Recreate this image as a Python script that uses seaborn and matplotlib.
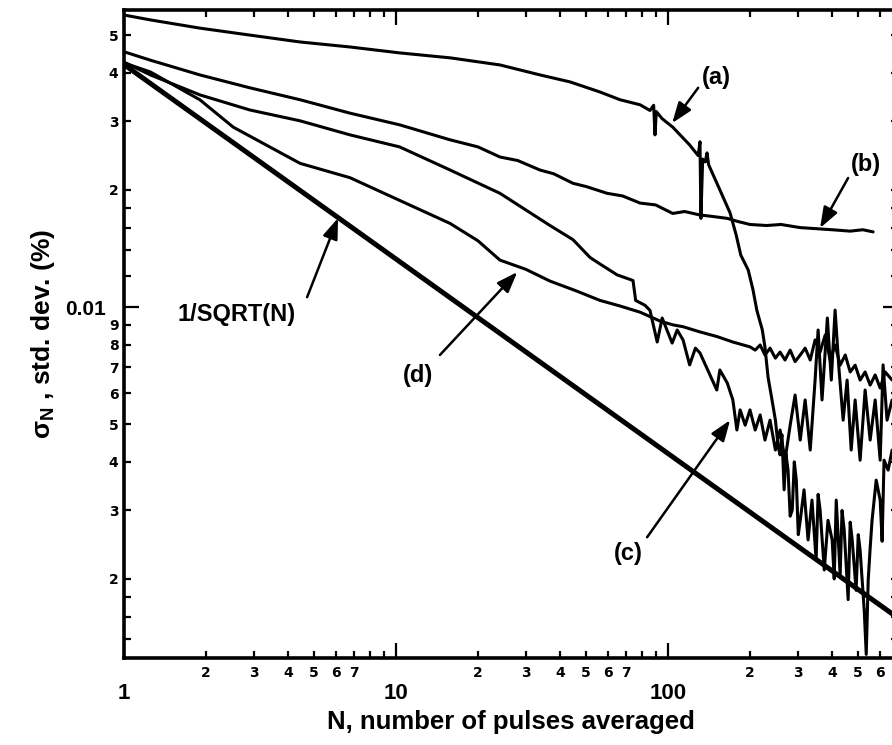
import numpy as np
import seaborn as sns
import matplotlib.pyplot as plt

# N values and std. dev. (log-log)
n_a = [1, 1.25, 1.9, 2.9, 4.44, 6.77, 10.3, 15.8, 24.1, 33.8, 43.6, 56.2, 66.6, 78.9,
       85.8, 88.5, 89.5, 90.5, 95, 104, 120, 129, 131, 132, 134, 137, 139, 141, 145,
       155, 169, 178, 185, 197, 205, 212, 222, 227, 233, 241, 248, 254, 258, 262, 267, 271,
       276, 281, 286, 291, 296, 301, 306, 316, 327, 338, 350, 356, 362, 375, 387, 401, 408,
       415, 429, 436, 444, 459, 467, 475, 491, 500, 508, 526, 535, 544, 553, 562, 582, 602,
       612, 622, 644, 666]
sig_a = [0.0563, 0.0547, 0.0521, 0.0500, 0.0480, 0.0466, 0.0450, 0.0437, 0.0419, 0.0395,
         0.0379, 0.0357, 0.0341, 0.0331, 0.0320, 0.0330, 0.0277, 0.0318, 0.0305, 0.0290,
         0.0261, 0.0245, 0.0266, 0.0169, 0.0240, 0.0236, 0.0249, 0.0232, 0.0222, 0.0200,
         0.01745, 0.0153, 0.0136, 0.01245, 0.0111, 0.0098, 0.00873, 0.00789, 0.00661,
         0.00577, 0.00512, 0.00437, 0.00417, 0.00470, 0.00339, 0.00420, 0.00381, 0.00290,
         0.00301, 0.00400, 0.00359, 0.00260, 0.00283, 0.00339, 0.00252, 0.00319, 0.00224,
         0.00330, 0.00301, 0.00211, 0.00283, 0.00252, 0.00200, 0.00319, 0.00205, 0.00300,
         0.00267, 0.00177, 0.00280, 0.00252, 0.00187, 0.00260, 0.00237, 0.00166, 0.00128,
         0.00199, 0.00240, 0.00283, 0.00359, 0.00319, 0.00250, 0.00404, 0.00381, 0.00429]

n_b = [1, 1.25, 1.9, 2.9, 4.44, 6.77, 10.3, 15.8, 20, 24.1, 28, 33.8, 38, 44.7, 50, 59.7,
       68, 78.9, 90, 104, 115, 131, 145, 165, 180, 200, 230, 260, 306, 350, 400, 467, 520, 567]
sig_b = [0.0453, 0.0431, 0.0395, 0.0366, 0.0341, 0.0315, 0.0294, 0.0269, 0.0258, 0.0243,
         0.0238, 0.0225, 0.0220, 0.0208, 0.0204, 0.0196, 0.0193, 0.0185, 0.0183, 0.0174,
         0.0176, 0.01724, 0.0171, 0.0169, 0.0166, 0.0163, 0.0162, 0.0163, 0.0160, 0.0159,
         0.0158, 0.01567, 0.0158, 0.0156]

n_c = [1, 1.25, 1.9, 2.9, 4.44, 6.77, 10.3, 15.8, 24.1, 36.8, 44.7, 51.7, 56.2, 64.9,
       74.3, 76.0, 82.3, 85.8, 91.2, 95.1, 103.5, 108, 113.5, 120, 126, 131, 151, 155,
       165, 173, 179, 184, 192, 200, 209, 218, 227, 237, 248, 258, 269, 281, 293, 306,
       319, 333, 347, 356, 368, 385, 398, 411, 425, 440, 455, 471, 487, 508, 530, 553,
       577, 602, 617, 638, 666]
sig_c = [0.0426, 0.0395, 0.0351, 0.0321, 0.0301, 0.0277, 0.0258, 0.0225, 0.0196, 0.0162,
         0.0149, 0.0134, 0.0129, 0.0121, 0.0117, 0.0104, 0.0101, 0.0098, 0.00813, 0.00937,
         0.00808, 0.00873, 0.00823, 0.00710, 0.00784, 0.00762, 0.00612, 0.00689, 0.00638,
         0.00577, 0.00483, 0.00544, 0.00497, 0.00544, 0.00483, 0.00528, 0.00455, 0.00512,
         0.00429, 0.00483, 0.00404, 0.00497, 0.00594, 0.00455, 0.00577, 0.00429, 0.00649,
         0.00873, 0.00577, 0.00937, 0.00649, 0.00982, 0.00689, 0.00512, 0.00649, 0.00429,
         0.00577, 0.00404, 0.00612, 0.00455, 0.00577, 0.00404, 0.00710, 0.00512, 0.00577]

n_d = [1, 1.25, 1.9, 2.52, 4.44, 6.77, 10.3, 15.8, 20, 24.1, 30, 36.8, 46, 56.2, 66.6,
       78.9, 93.5, 104, 113.5, 131, 151, 173, 200, 209, 218, 227, 237, 248, 258, 269, 281,
       293, 306, 319, 333, 347, 362, 378, 394, 411, 429, 448, 467, 487, 508, 530, 553,
       577, 602, 628, 666]
sig_d = [0.0424, 0.0402, 0.0341, 0.0290, 0.0234, 0.0215, 0.0188, 0.0164, 0.0148, 0.0132,
         0.0125, 0.01166, 0.0110, 0.0104, 0.01006, 0.0097, 0.0092, 0.0090, 0.0089, 0.00863,
         0.0084, 0.00813, 0.0079, 0.00775, 0.00799, 0.00753, 0.00784, 0.00739, 0.00766,
         0.00731, 0.00775, 0.00724, 0.00753, 0.00784, 0.00731, 0.00823, 0.00766, 0.00847,
         0.00731, 0.00799, 0.00709, 0.00753, 0.00681, 0.00709, 0.00649, 0.00681, 0.00630,
         0.00669, 0.00619, 0.00681, 0.00649]

# 1/sqrt(N) reference line, end points
n_sqrt = [1, 700]
sig_sqrt = [0.042, 0.001588]

x_major = [1, 10, 100]
x_major_labels = ['1', '10', '100']
x_minor = [2, 3, 4, 5, 6, 7, 8, 9, 20, 30, 40, 50, 60, 70, 80, 90, 200, 300, 400, 500, 600]
x_minor_labels = ['2', '3', '4', '5', '6', '7', '', '',
                  '2', '3', '4', '5', '6', '7', '', '',
                  '2', '3', '4', '5', '6']
y_major = [0.01]
y_major_labels = ['0.01']
y_minor = [0.0014, 0.0016, 0.0018, 0.002, 0.003, 0.004, 0.005, 0.006, 0.007, 0.008, 0.009,
           0.012, 0.014, 0.016, 0.018, 0.02, 0.03, 0.04, 0.05]
y_minor_labels = ['', '', '', '2', '3', '4', '5', '6', '7', '8', '9',
                  '', '', '', '', '2', '3', '4', '5']

sns.set_style('ticks')
plt.rcParams['font.family'] = ['Liberation Sans', 'DejaVu Sans']
plt.rcParams['mathtext.default'] = 'regular'
plt.rcParams['font.weight'] = 'bold'
for key in ['text.color', 'axes.labelcolor', 'xtick.color', 'ytick.color', 'axes.edgecolor']:
    plt.rcParams[key] = 'black'

fig = plt.figure(figsize=(8.92, 7.45), dpi=100)
ax = fig.add_axes([124 / 892, 87 / 745, 774 / 892, 648 / 745])
ax.set_xscale('log')
ax.set_yscale('log')

for xs, ys in [(n_a, sig_a), (n_b, sig_b), (n_c, sig_c), (n_d, sig_d)]:
    sns.lineplot(x=xs, y=ys, ax=ax, color='black', lw=2.2, estimator=None, sort=False)
sns.lineplot(x=n_sqrt, y=sig_sqrt, ax=ax, color='black', lw=3.6, estimator=None, sort=False)

ax.set_xlim(1, 700)
ax.set_ylim(0.001253, 0.058)

ax.set_xticks(x_major, x_major_labels, fontsize=16, fontweight='bold')
ax.set_xticks(x_minor, x_minor_labels, minor=True, fontsize=10, fontweight='bold',
              fontfamily='DejaVu Sans')
ax.set_yticks(y_major, y_major_labels, fontsize=15, fontweight='bold')
ax.set_yticks(y_minor, y_minor_labels, minor=True, fontsize=10, fontweight='bold',
              fontfamily='DejaVu Sans')

ax.tick_params(which='both', direction='in', top=True, right=True, width=1.6,
               color='black', labelcolor='black')
ax.tick_params(which='major', length=11)
ax.tick_params(which='minor', length=5)
ax.tick_params(axis='x', which='major', pad=18)
ax.tick_params(axis='x', which='minor', pad=6)
ax.tick_params(axis='y', which='major', pad=13)
ax.tick_params(axis='y', which='minor', pad=4)
for sp in ax.spines.values():
    sp.set_linewidth(2.6)
    sp.set_color('black')

ax.set_xlabel('N, number of pulses averaged', fontsize=18.5, fontweight='bold',
              labelpad=4, color='black')
ax.set_ylabel('σ$_N$ , std. dev. (%)', fontsize=19, fontweight='bold', labelpad=6,
              color='black')

arrow = dict(arrowstyle='-|>,head_length=0.9,head_width=0.33', mutation_scale=14,
             lw=1.8, color='black', shrinkA=0, shrinkB=0)
notes = [
    ('(a)', (151, 0.039), (129, 0.0366), (103.5, 0.0297)),
    ('(b)', (535, 0.0233), (459, 0.02146), (362, 0.01596)),
    ('1/SQRT(N)', (2.6, 0.00959), (4.71, 0.0106), (6.12, 0.01693)),
    ('(d)', (12.05, 0.00665), (14.5, 0.00753), (27.9, 0.0123)),
    ('(c)', (71.3, 0.00233), (83.7, 0.00256), (169, 0.00512)),
]
for label, txt, tail, tip in notes:
    ax.text(txt[0], txt[1], label, fontsize=17, fontweight='bold', color='black',
            ha='center', va='center')
    ax.annotate('', xy=tip, xytext=tail, arrowprops=arrow)

fig.savefig('out.png', dpi=100)
